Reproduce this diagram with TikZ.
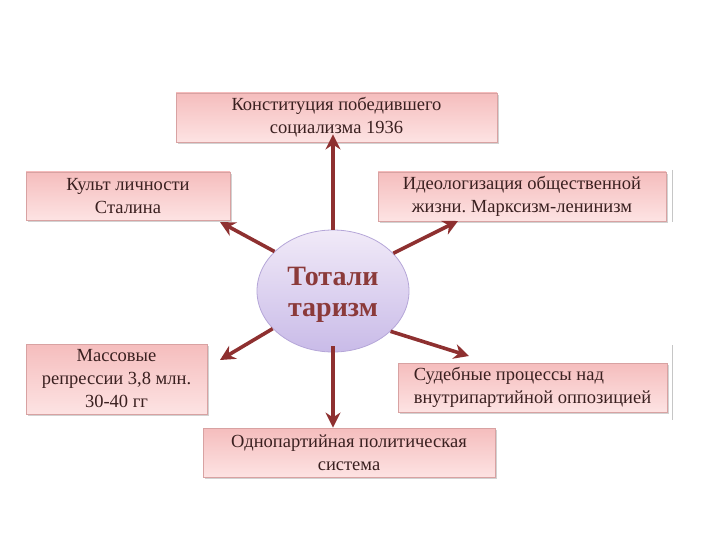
\documentclass[tikz,border=0pt]{standalone}
\usepackage{fontspec}
\setmainfont{Liberation Serif}
\usetikzlibrary{arrows.meta,shadows,shapes.geometric}
\frenchspacing

\definecolor{boxtop}{HTML}{F5BDBD}
\definecolor{boxbot}{HTML}{FDE3E3}
\definecolor{boxline}{HTML}{D8A2A2}
\definecolor{boxtext}{HTML}{3A2020}
\definecolor{ovtop}{HTML}{F1EAF8}
\definecolor{ovbot}{HTML}{C9BBE8}
\definecolor{ovline}{HTML}{B5A6D8}
\definecolor{ovtext}{HTML}{8B3A3A}
\definecolor{arrowred}{HTML}{8E3030}

\tikzset{
  factbox/.style={draw=boxline, line width=0.8pt, top color=boxtop, bottom color=boxbot,
    drop shadow={shadow xshift=1.5pt, shadow yshift=-2pt, opacity=0.35},
    text=boxtext, align=center, inner sep=2pt,
    font=\fontsize{18.5}{23}\selectfont},
  arr/.style={draw=arrowred, line width=3.6pt, -{Stealth[length=15pt,width=15pt]}}
}

\begin{document}
\begin{tikzpicture}[x=1pt,y=-1pt]
  \useasboundingbox[fill=white] (0,0) rectangle (720,540);

  % central ellipse
  \node[ellipse, draw=ovline, line width=0.8pt, top color=ovtop, bottom color=ovbot,
        minimum width=152pt, minimum height=122pt, text=ovtext, align=center,
        font=\bfseries\fontsize{28}{31}\selectfont] (tot) at (333,291) {};
  \node[text=ovtext, align=center, font=\bfseries\fontsize{28}{31}\selectfont]
        (totlbl) at (333,295) {Тотали\\таризм};

  % boxes round it
  \node[factbox, minimum width=321pt, minimum height=49pt] (konst) at (336.5,117.5)
    {Конституция победившего\\социализма 1936};
  \node[factbox, minimum width=204pt, minimum height=48pt] (kult) at (128,196)
    {Культ личности\\Сталина};
  \node[factbox, minimum width=288pt, minimum height=49pt] (ideo) at (522,196.5)
    {Идеологизация общественной\\жизни. Марксизм-ленинизм};
  \node[factbox, minimum width=181pt, minimum height=70pt] (repr) at (116.5,379)
    {Массовые\\репрессии 3,8 млн.\\30-40 гг};
  \node[factbox, minimum width=269pt, minimum height=49pt, align=left] (sud) at (532.5,387.5)
    {Судебные процессы над\\внутрипартийной оппозицией};
  \node[factbox, minimum width=292pt, minimum height=49pt] (odno) at (349,452.5)
    {Однопартийная политическая\\система};

  % thin edges at the right
  \draw[gray!45, line width=0.6pt] (672,170) -- (672,222);
  \draw[gray!45, line width=0.6pt] (672,345) -- (672,420);

  % arrow tips
  \coordinate (tipUL) at (220,222);
  \coordinate (tipUR) at (458,221);
  \coordinate (tipLL) at (220,360);
  \coordinate (tipLR) at (469,356);

  \draw[arr] (tot.north) -- ([yshift=8pt]tot.north |- konst.south);
  \draw[arr] ([yshift=6pt]tot.south) -- (tot.south |- odno.north);
  \draw[arr] (tot.146) -- (tipUL);
  \draw[arr] (tot.32) -- (tipUR);
  \draw[arr] (tot.212) -- (tipLL);
  \draw[arr] (tot.325) -- (tipLR);
\end{tikzpicture}
\end{document}
